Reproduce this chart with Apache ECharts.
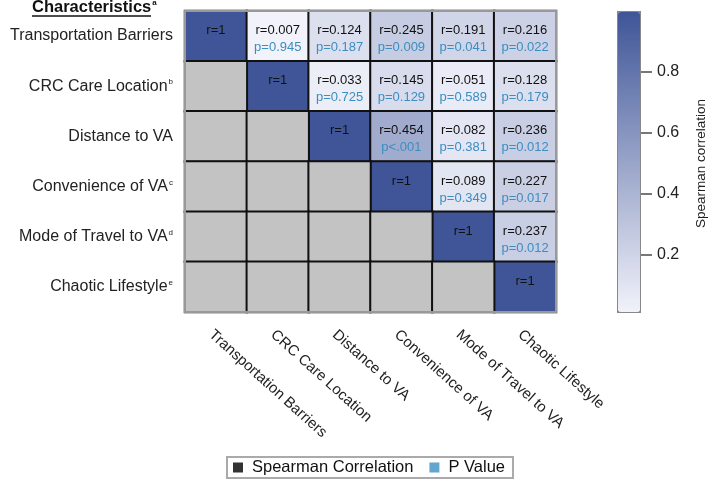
<!DOCTYPE html>
<html>
<head>
<meta charset="utf-8">
<script src="https://cdn.jsdelivr.net/npm/echarts@6/dist/echarts.min.js"></script>
<style>
html, body { margin: 0; padding: 0; background: #fff; }
#chart { width: 709px; height: 481px; }
</style>
</head>
<body>
<div id="chart"></div>
<script>
const categories = ['Transportation Barriers', 'CRC Care Location', 'Distance to VA', 'Convenience of VA', 'Mode of Travel to VA', 'Chaotic Lifestyle'];
const superscripts = ['', 'b', '', 'c', 'd', 'e'];
// Spearman r, row = y category (top to bottom), col = x category; only upper triangle
const rValues = [
  [1, 0.007, 0.124, 0.245, 0.191, 0.216],
  [null, 1, 0.033, 0.145, 0.051, 0.128],
  [null, null, 1, 0.454, 0.082, 0.236],
  [null, null, null, 1, 0.089, 0.227],
  [null, null, null, null, 1, 0.237],
  [null, null, null, null, null, 1]
];
const pLabels = [
  ['', 'p=0.945', 'p=0.187', 'p=0.009', 'p=0.041', 'p=0.022'],
  ['', '', 'p=0.725', 'p=0.129', 'p=0.589', 'p=0.179'],
  ['', '', '', 'p<.001', 'p=0.381', 'p=0.012'],
  ['', '', '', '', 'p=0.349', 'p=0.017'],
  ['', '', '', '', '', 'p=0.012'],
  ['', '', '', '', '', '']
];
const colorbarMin = 0.007;
const colorbarMax = 1;
const colorbarTicks = [0.2, 0.4, 0.6, 0.8];

const FONT = '"Liberation Sans", Arial, sans-serif';
const pColor = '#3b8ec2';
const frameLine = { show: true, onZero: false, lineStyle: { color: '#999', width: 2 } };

// build heatmap cells
const upperData = [];
const lowerData = [];
rValues.forEach(function (row, i) {
  row.forEach(function (r, j) {
    if (r === null) lowerData.push([j, i, 0]);
    else upperData.push([j, i, r, pLabels[i][j]]);
  });
});

const chart = echarts.init(document.getElementById('chart'));
const option = {
  animation: false,
  textStyle: { fontFamily: FONT },
  title: {
    text: 'Characteristics{sup|a}',
    left: 32,
    top: -1,
    padding: 0,
    textStyle: {
      fontFamily: FONT,
      fontSize: 16.5,
      fontWeight: 'bold',
      color: '#111',
      rich: { sup: { fontSize: 8, verticalAlign: 'top', color: '#111', padding: [0, 0, 6, 1] } }
    }
  },
  graphic: [
    { type: 'line', shape: { x1: 32, y1: 16, x2: 151, y2: 16 }, style: { stroke: '#111', lineWidth: 1.5 } }
  ],
  legend: {
    left: 227,
    top: 457,
    data: ['Spearman Correlation', 'P Value'],
    icon: 'rect',
    itemWidth: 10,
    itemHeight: 10,
    itemGap: 16,
    borderColor: '#aaa',
    borderWidth: 2,
    padding: [2, 8, 2, 6],
    selectedMode: false,
    textStyle: { fontFamily: FONT, fontSize: 16.5, color: '#111', padding: [0, 0, 0, 4] }
  },
  grid: [
    { left: 185, top: 11, width: 371, height: 301 },
    // colorbar tick axis: 0.8 -> y 72, 0.2 -> y 255
    { left: 617, top: 72, width: 24, height: 183 }
  ],
  xAxis: [
    {
      type: 'category',
      data: categories,
      gridIndex: 0,
      z: 10,
      axisLine: frameLine,
      axisTick: { show: false },
      splitLine: { show: false },
      axisLabel: { rotate: -42, fontSize: 15, color: '#222', margin: 15, interval: 0, verticalAlign: 'top' }
    },
    { type: 'value', gridIndex: 1, show: false, min: 0, max: 1 },
    // top frame edge
    {
      type: 'category',
      data: categories,
      gridIndex: 0,
      position: 'top',
      z: 10,
      axisLine: frameLine,
      axisTick: { show: false },
      axisLabel: { show: false },
      splitLine: { show: false }
    }
  ],
  yAxis: [
    {
      type: 'category',
      data: categories,
      inverse: true,
      gridIndex: 0,
      z: 10,
      axisLine: frameLine,
      axisTick: { show: false },
      splitLine: { show: false },
      axisLabel: {
        fontSize: 16,
        color: '#222',
        margin: 12,
        interval: 0,
        formatter: function (value, idx) {
          return superscripts[idx] ? value + '{sup|' + superscripts[idx] + '}' : value;
        },
        rich: { sup: { fontSize: 8, color: '#222', verticalAlign: 'top', padding: [0, 0, 8, 1] } }
      }
    },
    {
      type: 'value',
      gridIndex: 1,
      position: 'right',
      z: 10,
      min: colorbarTicks[0],
      max: colorbarTicks[colorbarTicks.length - 1],
      interval: 0.2,
      axisLine: { show: false, onZero: false },
      splitLine: { show: false },
      axisTick: { show: true, inside: false, length: 11, lineStyle: { color: '#777', width: 2 } },
      axisLabel: { fontSize: 16, color: '#222', margin: 16 },
      name: 'Spearman correlation',
      nameLocation: 'middle',
      nameRotate: 90,
      nameGap: 53,
      nameTextStyle: { fontSize: 13.5, color: '#222' }
    },
    // right frame edge
    {
      type: 'category',
      data: categories,
      inverse: true,
      gridIndex: 0,
      position: 'right',
      z: 10,
      axisLine: frameLine,
      axisTick: { show: false },
      axisLabel: { show: false },
      splitLine: { show: false }
    }
  ],
  visualMap: {
    type: 'continuous',
    seriesIndex: 0,
    dimension: 2,
    min: colorbarMin,
    max: colorbarMax,
    calculable: false,
    hoverLink: false,
    left: 617,
    top: 11,
    itemWidth: 22,
    itemHeight: 300,
    padding: 0,
    borderColor: '#888',
    borderWidth: 2,
    inRange: { color: ['#f1f2fa', '#3f5597'] }
  },
  series: [
    {
      name: 'r',
      type: 'heatmap',
      data: upperData,
      itemStyle: { borderColor: '#111', borderWidth: 2 },
      emphasis: { disabled: true },
      label: {
        show: true,
        offset: [0, 3],
        formatter: function (p) {
          return '{r|r=' + p.data[2] + '}\n{p|' + (p.data[3] || ' ') + '}';
        },
        rich: {
          r: { fontSize: 13, color: '#111', lineHeight: 17 },
          p: { fontSize: 13, color: pColor, lineHeight: 17 }
        }
      }
    },
    {
      name: 'lower',
      type: 'heatmap',
      data: lowerData,
      itemStyle: { color: '#c3c3c3', borderColor: '#111', borderWidth: 2 },
      emphasis: { disabled: true }
    },
    { name: 'Spearman Correlation', type: 'scatter', data: [], itemStyle: { color: '#000' } },
    { name: 'P Value', type: 'scatter', data: [], itemStyle: { color: pColor } }
  ]
};
chart.setOption(option);
</script>
</body>
</html>
